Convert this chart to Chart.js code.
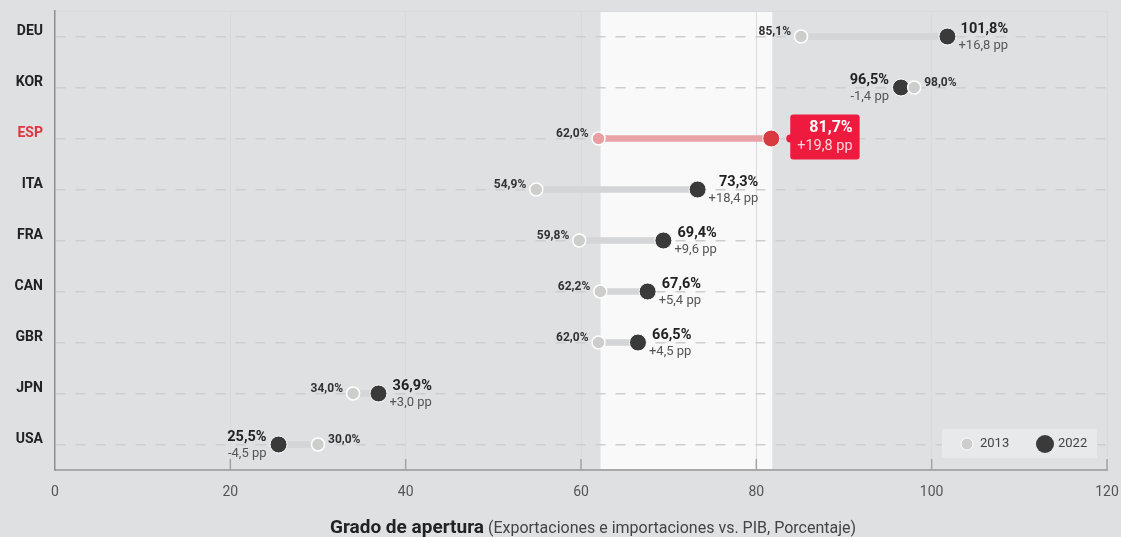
<!DOCTYPE html>
<html lang="es">
<head>
<meta charset="utf-8">
<title>Grado de apertura</title>
<script src="https://cdn.jsdelivr.net/npm/chart.js@4.4.1/dist/chart.umd.min.js"></script>
<style>
  html, body { margin: 0; padding: 0; background: #dfe0e2; }
  #contenedor { width: 1121px; height: 537px; position: relative; }
</style>
</head>
<body>
<div id="contenedor"><canvas id="grafico"></canvas></div>
<script>
const paises = ["DEU", "KOR", "ESP", "ITA", "FRA", "CAN", "GBR", "JPN", "USA"];
const valores2013 = [85.1, 98.0, 62.0, 54.9, 59.8, 62.2, 62.0, 34.0, 30.0];
const valores2022 = [101.8, 96.5, 81.7, 73.3, 69.4, 67.6, 66.5, 36.9, 25.5];
const cambioPp = [16.8, -1.4, 19.8, 18.4, 9.6, 5.4, 4.5, 3.0, -4.5];
const ticksX = [0, 20, 40, 60, 80, 100, 120];
const anios = ["2013", "2022"];
const destacado = "ESP";

const corClaro = "#cdcdcb";
const corEscuro = "#3a3a3a";
const corLinha = "#d4d5d6";
const corVermelho = "#ef1b3e";

Chart.defaults.font.family = "Roboto";

function fmt(v) {
  return v.toFixed(1).replace(".", ",");
}

function fmtPp(v) {
  return (v > 0 ? "+" : "") + fmt(v) + " pp";
}

const idxDestacado = paises.indexOf(destacado);

// faixa branca atras do pais destacado
const fundoFaixa = {
  id: "fundoFaixa",
  beforeDraw(chart) {
    const { ctx, chartArea, scales } = chart;
    const a = Math.min(valores2013[idxDestacado], valores2022[idxDestacado]);
    const b = Math.max(valores2013[idxDestacado], valores2022[idxDestacado]);
    const x1 = scales.x.getPixelForValue(a) + 2;
    const x2 = scales.x.getPixelForValue(b) + 1;
    ctx.save();
    ctx.fillStyle = "#f9f9f9";
    ctx.fillRect(x1, chartArea.top, x2 - x1, chartArea.bottom - chartArea.top);
    ctx.strokeStyle = "#d8d9db";
    ctx.lineWidth = 1;
    ctx.beginPath();
    ctx.moveTo(chartArea.left, chartArea.top + 0.5);
    ctx.lineTo(chartArea.right, chartArea.top + 0.5);
    ctx.stroke();
    ctx.restore();
  },
  beforeDatasetsDraw(chart) {
    // marcas do eixo x para dentro
    const { ctx, chartArea, scales } = chart;
    ctx.save();
    ctx.strokeStyle = "#a3a3a3";
    ctx.lineWidth = 1.5;
    scales.x.ticks.forEach((t) => {
      if (t.value === ticksX[0]) return;
      const x = scales.x.getPixelForValue(t.value);
      ctx.beginPath();
      ctx.moveTo(x, chartArea.bottom - 11);
      ctx.lineTo(x, chartArea.bottom);
      ctx.stroke();
    });
    ctx.restore();
  },
};

const etiquetas = {
  id: "etiquetas",
  afterDatasetsDraw(chart) {
    const { ctx } = chart;
    const meta13 = chart.getDatasetMeta(1);
    const meta22 = chart.getDatasetMeta(2);
    ctx.save();
    ctx.textBaseline = "middle";

    paises.forEach((pais, i) => {
      const p13 = meta13.data[i];
      const p22 = meta22.data[i];
      const direita = valores2022[i] >= valores2013[i];

      // rotulo 2013
      ctx.font = "bold 12px Roboto";
      ctx.fillStyle = "#333";
      ctx.textAlign = direita ? "right" : "left";
      ctx.fillText(fmt(valores2013[i]) + "%", p13.x + (direita ? -10 : 10), p13.y - 5);

      const txtValor = fmt(valores2022[i]) + "%";
      const txtPp = fmtPp(cambioPp[i]);

      if (pais === destacado) {
        ctx.font = "bold 16px Roboto";
        const w1 = ctx.measureText(txtValor).width;
        ctx.font = "14.5px Roboto";
        const w2 = ctx.measureText(txtPp).width;
        const w = Math.max(w1, w2) + 14;
        const esq = p22.x + 19;
        const topo = p22.y - 24;
        ctx.fillStyle = corVermelho;
        ctx.beginPath();
        ctx.arc(esq, p22.y, 4, 0, Math.PI * 2);
        ctx.fill();
        ctx.beginPath();
        ctx.roundRect(esq, topo, w, 45, 3);
        ctx.fill();
        ctx.textAlign = "right";
        ctx.fillStyle = "#fff";
        ctx.font = "bold 16px Roboto";
        ctx.fillText(txtValor, esq + w - 7, p22.y - 11);
        ctx.fillStyle = "#ffd6dc";
        ctx.font = "14.5px Roboto";
        ctx.fillText(txtPp, esq + w - 7, p22.y + 8);
        return;
      }

      ctx.font = "bold 14.5px Roboto";
      const w1 = ctx.measureText(txtValor).width;
      ctx.font = "13px Roboto";
      const w2 = ctx.measureText(txtPp).width;
      const w = Math.max(w1, w2);
      const dir = direita ? p22.x + 11 + w : p22.x - 12;
      ctx.textAlign = "right";
      ctx.fillStyle = "#222";
      ctx.font = "bold 14.5px Roboto";
      ctx.fillText(txtValor, dir, p22.y - 7);
      ctx.fillStyle = "#555";
      ctx.font = "13px Roboto";
      ctx.fillText(txtPp, dir, p22.y + 9);
    });
    ctx.restore();
  },
  afterDraw(chart) {
    const { ctx, chartArea } = chart;
    ctx.save();

    // legenda
    const dir = chartArea.right - 10;
    const esq = dir - 155;
    const topo = chartArea.bottom - 41;
    ctx.fillStyle = "#e8e9ea";
    ctx.fillRect(esq, topo, 155, 29);
    const cy = topo + 15;
    ctx.fillStyle = corClaro;
    ctx.strokeStyle = "#fff";
    ctx.lineWidth = 1;
    ctx.beginPath();
    ctx.arc(esq + 25, cy, 6, 0, Math.PI * 2);
    ctx.fill();
    ctx.stroke();
    ctx.fillStyle = corEscuro;
    ctx.beginPath();
    ctx.arc(esq + 103, cy, 9, 0, Math.PI * 2);
    ctx.fill();
    ctx.fillStyle = "#444";
    ctx.font = "13px Roboto";
    ctx.textAlign = "left";
    ctx.textBaseline = "middle";
    ctx.fillText(anios[0], esq + 38, cy);
    ctx.fillText(anios[1], esq + 116, cy);

    // titulo do eixo x
    const t1 = "Grado de apertura";
    const t2 = " (Exportaciones e importaciones vs. PIB, Porcentaje)";
    ctx.font = "bold 19px Roboto";
    const w1 = ctx.measureText(t1).width;
    ctx.font = "16px Roboto";
    const w2 = ctx.measureText(t2).width;
    const centro = (chartArea.left + chartArea.right) / 2 + 12;
    const x0 = centro - (w1 + w2) / 2;
    ctx.textBaseline = "alphabetic";
    ctx.fillStyle = "#222";
    ctx.font = "bold 19px Roboto";
    ctx.fillText(t1, x0, 533);
    ctx.fillStyle = "#444";
    ctx.font = "16px Roboto";
    ctx.fillText(t2, x0 + w1, 533);
    ctx.restore();
  },
};

new Chart(document.getElementById("grafico"), {
  type: "bar",
  data: {
    labels: paises,
    datasets: [
      {
        label: "cambio",
        data: paises.map((p, i) => [valores2013[i], valores2022[i]]),
        backgroundColor: paises.map((p) => (p === destacado ? "#e9a3a7" : corLinha)),
        barThickness: 6,
        borderSkipped: false,
        order: 3,
      },
      {
        type: "line",
        label: anios[0],
        data: valores2013,
        indexAxis: "y",
        showLine: false,
        pointRadius: 6.5,
        pointBorderWidth: 1.5,
        pointBorderColor: "#fff",
        pointBackgroundColor: paises.map((p) => (p === destacado ? "#e9a0a4" : corClaro)),
        order: 1,
      },
      {
        type: "line",
        label: anios[1],
        data: valores2022,
        indexAxis: "y",
        showLine: false,
        pointRadius: 8.5,
        pointBorderWidth: 1,
        pointBorderColor: "#fff",
        pointBackgroundColor: paises.map((p) => (p === destacado ? "#d93a42" : corEscuro)),
        order: 2,
      },
    ],
  },
  options: {
    indexAxis: "y",
    responsive: true,
    maintainAspectRatio: false,
    animation: false,
    events: [],
    layout: { padding: { top: 11, right: 14, left: 0, bottom: 0 } },
    plugins: {
      legend: { display: false },
      tooltip: { enabled: false },
    },
    scales: {
      x: {
        type: "linear",
        min: ticksX[0],
        max: ticksX[ticksX.length - 1],
        afterFit(s) {
          s.height = 67;
          s.paddingLeft = 0;
          s.paddingRight = 0;
        },
        ticks: {
          stepSize: ticksX[1] - ticksX[0],
          font: { size: 14 },
          color: "#555",
          padding: 14,
        },
        grid: {
          color: (c) => (c.index === 0 ? "rgba(0,0,0,0)" : "#d9dadc"),
          lineWidth: 1,
          drawTicks: false,
        },
        border: { color: "#a9a9a9", width: 2 },
      },
      y: {
        type: "category",
        labels: paises,
        offset: true,
        afterFit(s) {
          s.width = 55;
          s.paddingTop = 0;
          s.paddingBottom = 0;
        },
        ticks: {
          font: { size: 14, weight: "bold" },
          color: (c) => (c.tick && c.tick.label === destacado ? "#e0343f" : "#222"),
          padding: 12,
          labelOffset: -5,
        },
        grid: {
          offset: false,
          color: "#cdced0",
          lineWidth: 1.5,
          drawTicks: false,
        },
        border: { color: "#8e8e8e", width: 1.5, dash: [10, 10] },
      },
    },
  },
  plugins: [fundoFaixa, etiquetas],
});
</script>
</body>
</html>
